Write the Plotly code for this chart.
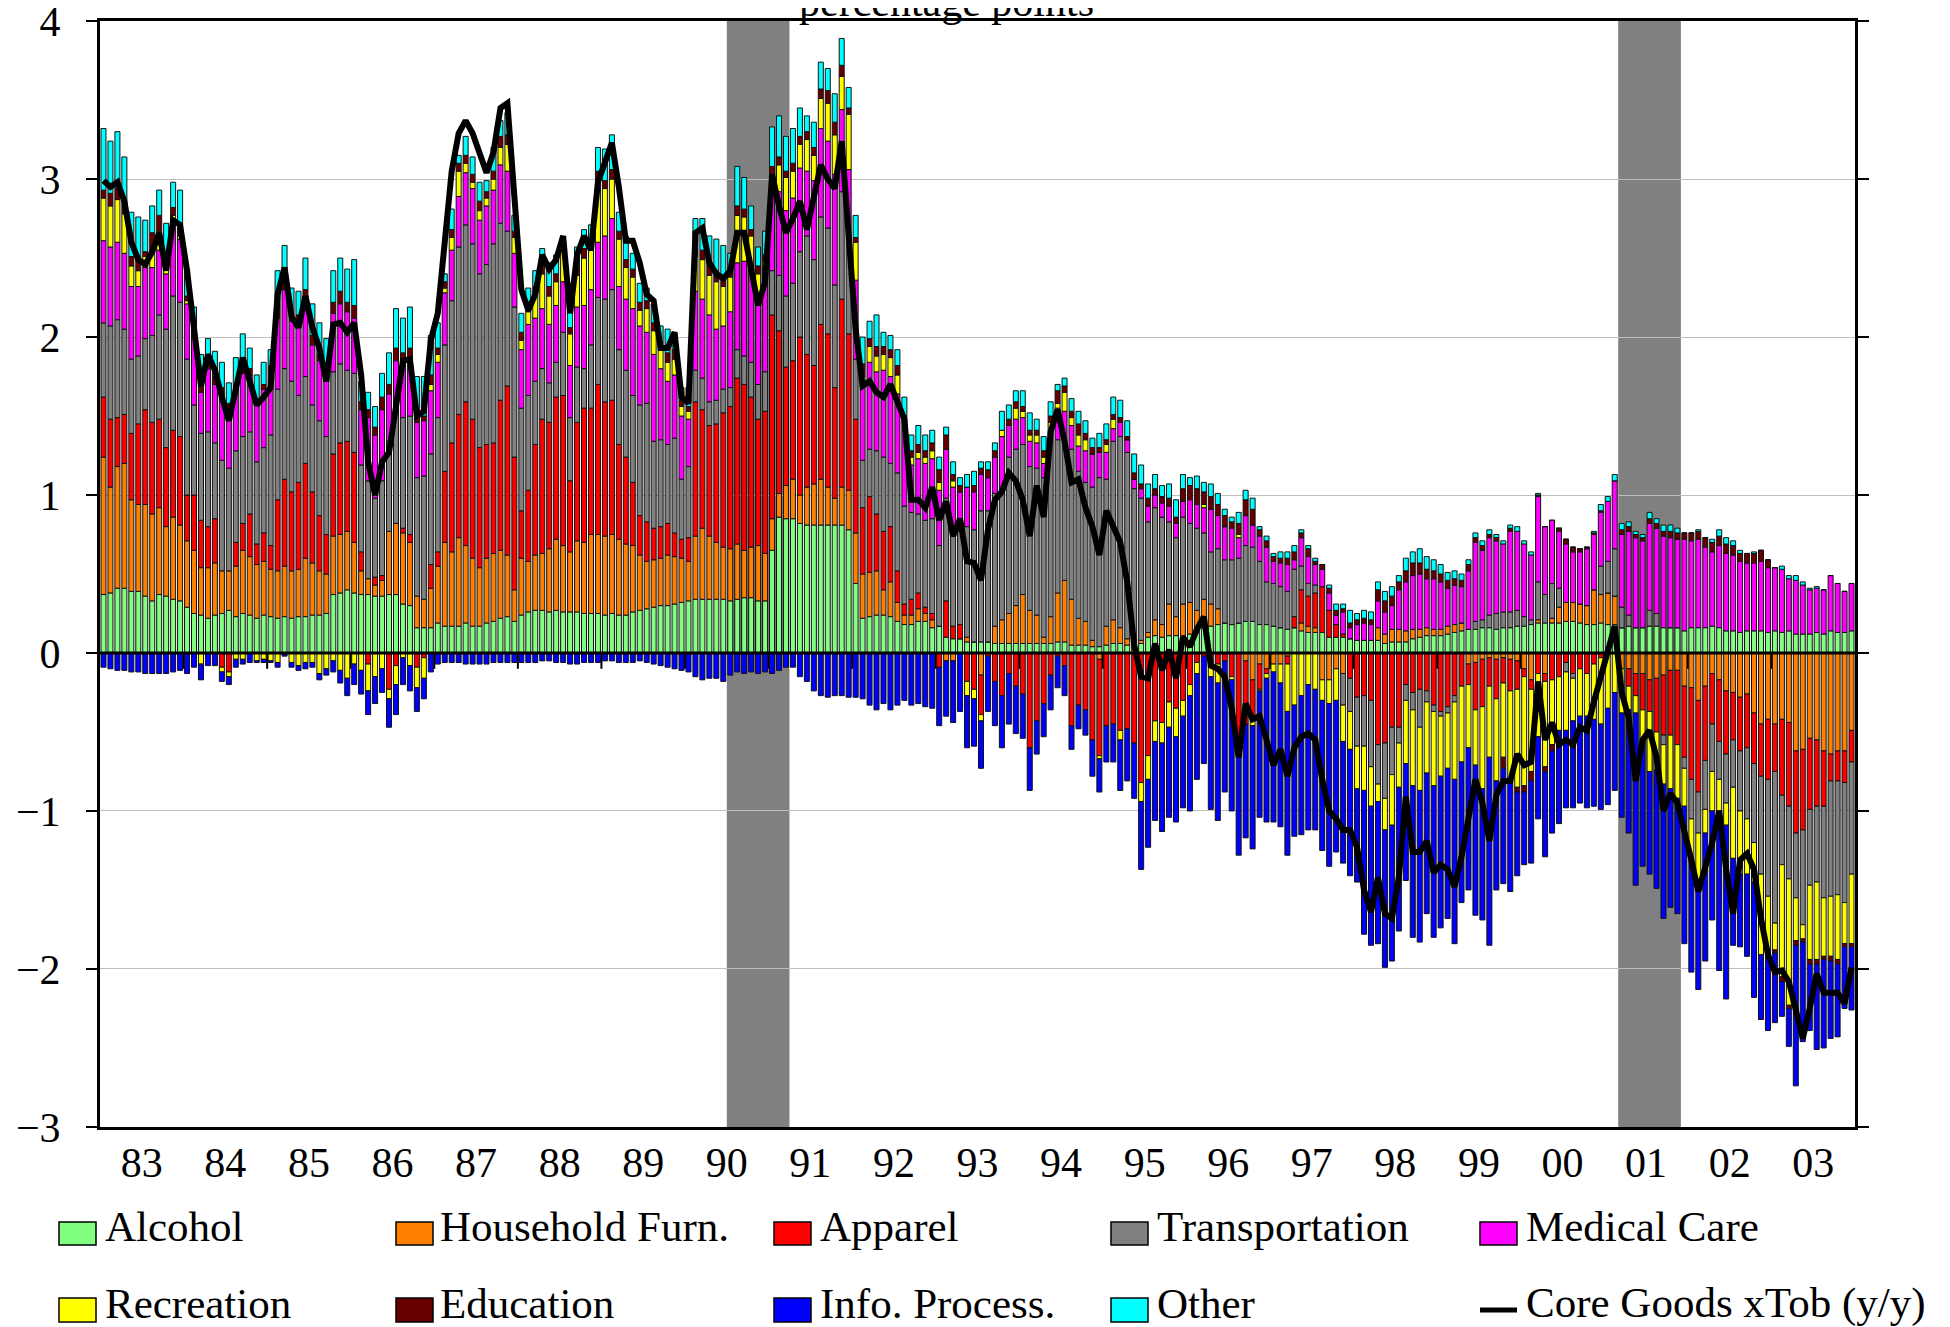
import plotly.graph_objects as go

# ---------------- data (monthly, Jan 1983 - Dec 2003), percentage points ----------------
YEARS = ["83", "84", "85", "86", "87", "88", "89", "90", "91", "92", "93",
         "94", "95", "96", "97", "98", "99", "00", "01", "02", "03"]

ALCOHOL = [
    .37, .38, .41, .41, .39, .39, .36, .33, .37, .36, .34, .33,
    .29, .25, .24, .22, .24, .25, .27, .23, .25, .24, .22, .24,
    .23, .22, .23, .22, .23, .23, .24, .24, .25, .37, .38, .40,
    .38, .37, .37, .36, .36, .37, .37, .31, .30, .16, .16, .16,
    .19, .17, .17, .17, .19, .17, .17, .19, .20, .22, .23, .20,
    .24, .26, .27, .27, .26, .27, .26, .26, .26, .25, .25, .25,
    .24, .25, .24, .24, .26, .27, .28, .29, .30, .30, .31, .32,
    .33, .34, .34, .34, .34, .34, .33, .34, .35, .35, .33, .33,
    .65, .86, .85, .85, .82, .81, .81, .81, .81, .81, .81, .78,
    .44, .22, .23, .24, .24, .23, .20, .18, .18, .20, .20, .16,
    .17, .10, .09, .09, .07, .07, .07, .07, .06, .06, .06, .06,
    .06, .06, .06, .06, .06, .07, .07, .05, .05, .05, .04, .04,
    .05, .06, .06, .05, .06, .06, .10, .11, .10, .11, .11, .11,
    .12, .13, .16, .17, .18, .19, .18, .19, .20, .20, .18, .18,
    .17, .16, .15, .16, .14, .13, .13, .13, .10, .10, .10, .09,
    .08, .08, .08, .08, .06, .07, .07, .07, .09, .10, .11, .11,
    .11, .12, .13, .14, .15, .15, .16, .16, .15, .16, .16, .17,
    .17, .18, .19, .19, .19, .19, .20, .20, .19, .18, .18, .19,
    .18, .18, .16, .17, .16, .16, .17, .17, .16, .16, .16, .14,
    .16, .16, .16, .17, .16, .14, .14, .13, .14, .14, .14, .13,
    .14, .13, .14, .12, .12, .12, .13, .12, .14, .13, .13, .14,
]

HOUSEHOLD_FURN = [
    .87, .67, .77, .79, .58, .55, .58, .55, .55, .44, .52, .48,
    .42, .40, .30, .32, .33, .27, .25, .32, .40, .37, .34, .34,
    .30, .30, .32, .30, .30, .37, .33, .28, .25, .37, .37, .37,
    .32, .15, .10, .07, .10, .40, .45, .45, .40, .20, .18, .25,
    .36, .53, .47, .56, .49, .43, .37, .41, .43, .43, .39, .20,
    .36, .32, .35, .36, .40, .45, .42, .38, .45, .45, .50, .50,
    .50, .50, .48, .45, .42, .35, .30, .30, .30, .32, .30, .28,
    .25, .40, .45, .40, .36, .33, .33, .35, .30, .32, .35, .30,
    .20, .15, .21, .25, .18, .24, .26, .29, .24, .17, .24, .25,
    .32, .28, .28, .28, .16, .22, .12, .06, .06, .08, .05, .05,
    0, -.05, -.05, 0, .03, 0, -.14, 0, .11, .15, .19, .24,
    .31, .21, .18, .04, .17, .31, .39, .29, .17, .15, .04, -.04,
    .12, .15, .10, .04, .03, .02, .03, .10, .08, .20, .12, .20,
    .20, .14, .18, .14, .10, 0, 0, 0, -.05, -.17, -.07, -.10,
    -.07, -.07, -.02, 0, .05, .04, .03, -.17, -.17, -.10, -.13, 0,
    0, 0, 0, .08, .06, .08, .08, .07, .06, .05, .05, .04,
    .04, .05, .05, .05, -.07, -.06, -.04, -.03, -.04, -.03, -.04, -.05,
    -.10, -.17, .02, -.13, .03, .10, .12, .12, .12, .12, .22, .18,
    .20, .18, -.10, -.10, -.13, -.13, -.17, -.16, -.14, -.11, -.11, -.21,
    -.22, -.30, -.21, -.13, -.17, -.24, -.25, -.28, -.26, -.38, -.45, -.42,
    -.45, -.42, -.44, -.62, -.61, -.54, -.55, -.62, -.64, -.62, -.62, -.49,
]

APPAREL = [
    .38, .43, .31, .31, .42, .51, .60, .58, .56, .50, .55, .56,
    .29, .35, .30, .26, .28, -.09, -.12, .15, .17, .27, .13, .18,
    .15, .45, .55, .50, .55, .60, .45, .35, .25, .52, .58, .57,
    .57, .12, -.07, .05, .03, -.23, -.08, .03, .05, -.09, -.03, .15,
    .09, .45, .69, .78, .91, .88, .76, .72, .70, .95, 1.07, .84,
    .30, .45, .70, .85, .80, .90, .95, .45, .75, .85, .80, .95,
    .85, .85, .60, .55, .40, .25, .25, .20, .20, .20, .15, .12,
    .15, .85, .75, .70, .75, .85, .90, 1.05, 1.05, .95, .80, .90,
    1.29, 1.03, .75, .75, 1.00, .84, .75, .98, .97, .70, 1.19, .99,
    .72, .42, .48, .36, .37, .35, .20, .07, .10, .10, .04, .04,
    -.09, .23, .08, .09, -.18, -.23, -.25, -.02, -.18, -.27, -.13, -.21,
    -.26, -.60, -.43, -.32, -.14, -.02, -.08, -.46, -.33, -.36, -.55, -.61,
    -.46, -.45, -.49, -.48, -.57, -.82, -.65, -.43, -.44, -.31, -.35, -.30,
    -.20, -.06, -.02, -.06, -.07, -.05, -.15, -.65, -.40, -.26, -.16, -.03,
    0, 0, -.05, .07, .21, .19, .22, .29, .17, .08, .02, -.16,
    -.28, -.27, -.30, -.58, -.57, -.47, -.47, -.20, -.25, -.23, -.24, -.33,
    -.37, -.34, -.27, -.21, -.13, -.30, -.30, -.18, -.25, -.16, -.20, -.18,
    -.05, -.06, -.13, -.05, -.17, -.15, -.06, -.13, -.10, -.13, -.07, -.03,
    0, 0, 0, -.11, -.14, -.23, -.20, -.34, -.38, -.41, -.47, -.45,
    -.58, -.58, -.47, -.32, -.39, -.40, -.30, -.34, -.34, -.32, -.33, -.38,
    -.30, -.48, -.53, -.52, -.51, -.45, -.42, -.35, -.17, -.19, -.20, -.20,
]

TRANSPORTATION = [
    .47, .59, .62, .54, .47, .43, .45, .55, .66, .75, .85, .85,
    .86, .57, .55, .60, .48, .70, .65, .58, .55, .52, .52, .54,
    .70, .70, .70, .70, .55, .55, .55, .60, .62, .52, .50, .45,
    .50, .55, .62, .50, .60, .57, .73, .70, .75, .75, .78, .70,
    .85, .80, .90, 1.06, 1.12, 1.11, 1.10, 1.14, 1.26, 1.12, .98, .95,
    .65, .60, .40, .32, .25, .22, .40, .40, .35, .25, .40, .55,
    .65, .70, .60, .55, .55, .70, .75, .55, .55, .50, .60, .38,
    .45, .20, .20, .15, .15, .15, .12, .18, .18, .22, .22, .25,
    .28, .35, .45, .49, .54, .75, .67, .68, .67, .65, .68, .59,
    .38, .30, .30, .40, .47, .40, .62, .62, .55, .50, .55, .60,
    .51, .65, .63, .59, .70, .71, .83, .83, .84, .84, .99, .99,
    .95, .91, .93, 1.01, 1.11, .97, .88, .95, .93, .88, .97, 1.07,
    .93, 1.13, 1.21, 1.18, .95, .90, .70, .71, .68, .52, .50, .55,
    .50, .52, .42, .33, .38, .40, .41, .41, .48, .47, .40, .27,
    .27, .26, .24, .30, .15, .08, .05, 0, 0, 0, -.20, -.21,
    -.31, -.32, -.42, -.25, -.35, -.30, -.10, -.10, -.11, -.24, -.07, -.04,
    -.03, -.04, -.04, 0, 0, .05, .05, .08, .10, .10, .10, .10,
    .06, .03, .24, .18, .22, .12, -.06, -.03, 0, 0, 0, .18,
    .20, .30, .13, .07, 0, 0, .10, .08, -.06, 0, 0, -.07,
    -.25, -.26, -.31, -.30, -.24, -.31, -.30, -.38, -.45, -.50, -.62, -.74,
    -.96, -.44, -.46, -.41, -.60, -.48, -.48, -.58, -.73, -.72, -.76, -.71,
]

MEDICAL = [
    .52, .50, .49, .48, .46, .44, .45, .43, .41, .35, .49, .40,
    .35, .42, .26, .40, .37, .40, .37, .38, .40, .36, .36, .37,
    .40, .45, .50, .38, .45, .45, .38, .38, .35, .37, .38, .37,
    .35, .35, .40, .40, .45, .30, .30, .35, .35, .35, .35, .40,
    .35, .33, .32, .32, .33, .35, .34, .37, .34, .37, .38, .34,
    .37, .45, .40, .38, .37, .36, .32, .33, .38, .40, .35, .35,
    .40, .45, .40, .45, .55, .50, .45, .55, .45, .40, .40, .40,
    .30, .50, .50, .55, .45, .40, .48, .55, .60, .55, .50, .60,
    .61, .53, .54, .54, .53, .41, .50, .56, .55, .70, .52, .45,
    .50, .50, .55, .50, .55, .55, .50, .48, .30, .35, .36, .38,
    .35, .31, .25, .25, .25, .24, .23, .21, .23, .32, .20, .19,
    .17, .16, .16, .09, .08, .20, .19, .15, .16, .20, .21, .16,
    .17, .08, .09, .08, .06, .06, .10, .08, .09, .10, .09, .10,
    .15, .15, .16, .27, .21, .21, .20, .13, .19, .14, .16, .22,
    .14, .15, .17, .06, .18, .17, .13, .11, .11, .06, .14, .07,
    .10, .11, .10, .17, .14, .15, .25, .31, .34, .35, .31, .32,
    .30, .24, .25, .23, .37, .50, .44, .49, .46, .43, .51, .50,
    .46, .41, .54, .43, .40, .36, .37, .32, .33, .36, .35, .34,
    .38, .43, .46, .53, .57, .55, .55, .54, .58, .57, .56, .58,
    .55, .56, .51, .47, .52, .49, .48, .45, .43, .43, .44, .41,
    .40, .40, .33, .34, .31, .28, .28, .28, .35, .31, .26, .30,
]

RECREATION = [
    .27, .26, .27, .25, .13, .10, .07, .09, .12, .05, .02, .02,
    .02, 0, -.07, 0, 0, -.03, -.03, -.04, -.04, 0, -.05, -.04,
    -.05, -.06, -.01, -.06, -.08, -.06, -.06, -.13, -.10, -.05, -.11, -.16,
    -.07, -.11, -.17, -.15, -.10, -.06, -.12, -.03, -.08, -.13, -.13, .04,
    .05, .03, .08, .16, .06, .04, .06, .05, .07, .11, .17, .10,
    .06, .08, .14, .22, .18, .15, .22, .20, .20, .30, .25, .40,
    .30, .25, .30, .20, .20, .10, .15, .15, .12, .12, .10, .06,
    .05, .22, .25, .25, .30, .25, .22, .30, .28, .25, .20, .10,
    0, .17, .21, .17, .15, .20, .16, .19, .24, .25, .21, .35,
    .24, .03, .10, .10, .10, .12, .12, .05, .05, .04, .04, .05,
    .05, 0, .04, 0, -.09, -.06, -.04, 0, 0, .04, 0, .07,
    .04, .04, .05, .04, .04, .03, .12, .05, .07, .07, 0, -.02,
    .05, .06, -.06, 0, 0, -.12, -.15, -.13, -.13, -.16, -.18, -.10,
    -.07, -.07, .02, -.09, -.12, 0, -.02, .02, 0, -.03, -.01, -.03,
    -.05, -.12, -.30, -.33, -.27, -.20, -.23, -.13, -.15, -.20, -.23, -.24,
    -.27, -.28, -.25, -.11, -.20, -.32, -.28, -.40, -.48, -.40, -.45, -.47,
    -.38, -.35, -.49, -.48, -.40, -.35, -.52, -.45, -.52, -.47, -.55, -.62,
    -.69, -.52, -.40, -.54, -.41, -.34, -.37, -.27, -.30, -.27, -.35, -.42,
    -.35, -.25, -.28, -.15, -.11, -.20, -.38, -.24, -.25, -.34, -.34, -.24,
    -.25, -.37, -.15, -.25, -.20, -.14, -.45, -.40, -.35, -.25, -.51, -.38,
    -.17, -.71, -.80, -.27, -.09, -.47, -.49, -.37, -.38, -.41, -.26, -.44,
]

EDUCATION = [
    .05, .08, .07, .06, .06, .07, .03, .13, .10, .05, .05, .05,
    .03, .04, .04, .03, .05, .06, .04, .04, .04, .04, .03, .03,
    .04, .10, .08, .05, .06, .10, .06, .04, .05, .07, .08, .06,
    .08, .05, .05, .05, .08, .06, .08, .06, .08, .04, .03, .06,
    .04, .04, .05, .05, .05, .05, .06, .04, .05, .07, .06, .04,
    .05, .05, .06, .07, .06, .05, .02, .04, .06, .06, .06, .05,
    .05, .06, .05, .05, .05, .05, .05, .05, .05, .06, .06, .04,
    .03, .04, .06, .07, .07, .06, .05, .06, .05, .04, .05, .04,
    .05, .05, .04, .05, .05, .05, .05, .06, .08, .08, .07, .04,
    .03, .08, .05, .06, .05, .05, .06, .04, .04, .05, .04, .05,
    .08, .09, .04, .04, 0, .04, .04, .05, .04, 0, .04, .04,
    .03, .03, .03, .04, .04, .08, .04, .04, .07, .04, .04, .03,
    .03, .03, .03, .02, .04, .03, .05, .04, .04, .05, .04, .08,
    .09, .10, .08, .08, .07, .07, .04, .07, .10, .10, .04, .04,
    .03, .03, .04, .05, .03, .05, .02, .03, .03, .03, .02, .03,
    .03, .03, .03, .07, .07, .06, .05, .07, .08, .07, .06, .05,
    .05, .05, .04, .04, .04, .03, .03, .02, .02, -.07, .02, -.03,
    -.04, -.06, .01, -.03, -.04, .02, .03, .03, .02, .01, .01, .01,
    0, 0, .03, .03, .02, .02, .03, .03, .03, .04, .04, .04,
    .05, .05, .06, .06, .06, .06, .06, .05, .06, .06, .07, .05,
    -.02, -.03, -.02, -.03, -.02, -.03, -.03, -.02, -.03, -.03, -.02, -.02,
]

INFO_PROCESS = [
    -.09, -.10, -.11, -.11, -.12, -.12, -.13, -.13, -.13, -.13, -.12, -.11,
    -.13, -.09, -.10, -.08, -.08, -.06, -.05, -.05, -.03, -.06, -.01, -.02,
    -.01, -.03, -.01, -.03, -.03, -.04, -.03, -.04, -.04, -.07, -.08, -.11,
    -.13, -.15, -.15, -.17, -.15, -.18, -.19, -.17, -.16, -.15, -.13, -.12,
    -.07, -.06, -.06, -.06, -.07, -.07, -.07, -.07, -.06, -.06, -.06, -.06,
    -.06, -.06, -.06, -.05, -.05, -.06, -.06, -.07, -.07, -.06, -.06, -.06,
    -.05, -.05, -.06, -.06, -.06, -.05, -.06, -.07, -.08, -.09, -.10, -.11,
    -.12, -.15, -.17, -.16, -.16, -.18, -.14, -.12, -.13, -.12, -.13, -.12,
    -.13, -.11, -.09, -.09, -.15, -.18, -.24, -.27, -.28, -.27, -.27, -.28,
    -.28, -.29, -.33, -.36, -.32, -.36, -.33, -.30, -.33, -.32, -.34, -.35,
    -.37, -.35, -.39, -.37, -.33, -.30, -.30, -.35, -.28, -.33, -.32, -.30,
    -.28, -.27, -.21, -.21, -.22, -.20, -.19, -.15, -.15, -.16, -.23, -.21,
    -.23, -.24, -.32, -.33, -.35, -.43, -.43, -.50, -.56, -.57, -.54, -.58,
    -.73, -.67, -.68, -.84, -.87, -.83, -.83, -.63, -.72, -.78, -.80, -.91,
    -.95, -.91, -.91, -.83, -.88, -.92, -.89, -.95, -1.03, -.96, -.77, -.80,
    -.59, -.91, -.88, -.90, -.87, -.86, -.91, -.74, -.96, -.96, -.89, -.96,
    -.96, -.95, -1.04, -.89, -.90, -.95, -.83, -1.19, -.69, -.73, -.72, -.53,
    -.46, -.52, -.52, -.54, -.52, -.59, -.49, -.55, -.55, -.58, -.55, -.54,
    -.61, -.62, -.66, -.78, -1.09, -.79, -.65, -.75, -.85, -.75, -.73, -.87,
    -.72, -.62, -.81, -.69, -1.01, -1.10, -.55, -.46, -.52, -.73, -.41, -.47,
    -.44, -.22, -.24, -.89, -.63, -.42, -.54, -.56, -.49, -.46, -.39, -.40,
]

OTHER = [
    .39, .33, .36, .30, .28, .27, .20, .17, .16, .22, .16, .24,
    .17, .16, .20, .16, .16, .16, .13, .17, .21, .13, .16, .14,
    .10, .20, .20, .16, .15, .20, .20, .20, .22, .20, .21, .21,
    .29, .13, .11, .13, .15, .20, .25, .22, .26, .25, .25, .25,
    .16, .05, .13, .05, .12, .11, .12, .07, .15, .10, .14, .10,
    .12, .10, .10, .09, .15, .12, .02, .20, .12, .12, .10, .15,
    .20, .22, .12, .15, .10, .12, .08, .12, .10, .15, .10, .08,
    .12, .20, .20, .18, .20, .20, .10, .25, .20, .15, .12, .15,
    .25, .26, .22, .22, .18, .10, .16, .17, .14, .18, .17, .13,
    .14, .17, .11, .20, .09, .09, .10, .12, .10, .12, .10, .08,
    .08, .05, .08, .05, .08, .09, .04, .05, .05, .12, .09, .07,
    .10, .11, .07, .09, .09, .04, .05, .08, .08, .08, .06, .09,
    .10, .11, .11, .10, .12, .12, .09, .09, .07, .09, .11, .09,
    .05, .08, .06, .08, .07, .04, .03, .07, .06, .07, .02, .03,
    .02, .04, .04, .04, .02, .02, .02, 0, .02, .04, .03, .08,
    .04, .05, .05, .05, .06, .06, .04, .08, .07, .09, .08, .07,
    .06, .05, .05, .04, .03, .03, .03, .03, .02, .02, .02, .03,
    .02, .02, .01, 0, 0, 0, 0, 0, 0, 0, .01, .04,
    .03, .04, .04, .03, .02, .02, .04, .03, .04, .04, .03, 0,
    0, .01, 0, .02, .04, .04, .03, .02, 0, .01, 0, 0,
    0, .02, .02, .03, .02, .01, .01, 0, 0, 0, 0, 0,
]

CORE_GOODS_XTOB = [
    2.99, 2.95, 2.98, 2.86, 2.60, 2.49, 2.46, 2.54, 2.66, 2.42, 2.74, 2.71,
    2.42, 2.08, 1.69, 1.89, 1.79, 1.62, 1.47, 1.67, 1.87, 1.72, 1.57, 1.62,
    1.68, 2.27, 2.44, 2.13, 2.06, 2.26, 2.06, 1.93, 1.72, 2.08, 2.09, 2.03,
    2.09, 1.76, 1.21, 1.00, 1.21, 1.27, 1.57, 1.85, 1.86, 1.50, 1.53, 1.98,
    2.15, 2.60, 3.05, 3.29, 3.37, 3.29, 3.15, 3.04, 3.17, 3.45, 3.48, 2.88,
    2.30, 2.17, 2.27, 2.52, 2.43, 2.49, 2.64, 2.15, 2.52, 2.64, 2.55, 2.98,
    3.12, 3.23, 2.95, 2.61, 2.61, 2.47, 2.27, 2.23, 1.93, 1.93, 2.03, 1.62,
    1.58, 2.66, 2.69, 2.47, 2.40, 2.37, 2.42, 2.66, 2.66, 2.42, 2.20, 2.35,
    3.03, 2.83, 2.66, 2.75, 2.86, 2.68, 2.90, 3.09, 3.00, 2.94, 3.24, 2.70,
    2.05, 1.69, 1.72, 1.65, 1.62, 1.70, 1.60, 1.48, .97, .97, .92, 1.05,
    .84, .96, .74, .85, .58, .57, .46, .78, .97, 1.02, 1.14, 1.09,
    .97, .74, 1.06, .86, 1.40, 1.54, 1.34, 1.08, 1.10, .92, .80, .62,
    .90, .80, .70, .45, .05, -.15, -.16, .06, -.11, .02, -.16, .10,
    .04, .15, .23, -.08, -.10, -.15, -.35, -.66, -.32, -.42, -.40, -.55,
    -.71, -.61, -.78, -.60, -.53, -.51, -.55, -.80, -1.00, -1.05, -1.12, -1.12,
    -1.23, -1.50, -1.64, -1.42, -1.65, -1.68, -1.42, -.91, -1.26, -1.26, -1.19, -1.39,
    -1.34, -1.37, -1.48, -1.29, -1.06, -.80, -.95, -1.19, -.90, -.81, -.81, -.64,
    -.71, -.69, -.18, -.55, -.44, -.58, -.55, -.58, -.47, -.49, -.31, -.16,
    .00, .17, -.25, -.41, -.81, -.55, -.49, -.66, -1.00, -.89, -.95, -1.12,
    -1.31, -1.51, -1.37, -1.20, -1.00, -1.37, -1.65, -1.31, -1.27, -1.37, -1.68, -1.91,
    -2.02, -2.01, -2.08, -2.27, -2.44, -2.25, -2.03, -2.15, -2.15, -2.15, -2.22, -1.99,
]

# recessions (in month-index units, Jan 1983 = 0)
RECESSIONS = [(89.5, 98.5), (217.5, 226.5)]

SERIES = [
    ("Alcohol", ALCOHOL, "#80FF80"),
    ("Household Furn.", HOUSEHOLD_FURN, "#FF8000"),
    ("Apparel", APPAREL, "#FF0000"),
    ("Transportation", TRANSPORTATION, "#808080"),
    ("Medical Care", MEDICAL, "#FF00FF"),
    ("Recreation", RECREATION, "#FFFF00"),
    ("Education", EDUCATION, "#660000"),
    ("Info. Process.", INFO_PROCESS, "#0000FF"),
    ("Other", OTHER, "#00FFFF"),
]
LINE_NAME = "Core Goods xTob (y/y)"

N = len(CORE_GOODS_XTOB)
months = list(range(N))
FONT = "Liberation Serif, Times New Roman, serif"

# ---------------- figure ----------------
# the page body has an 8px default margin, so the figure is drawn 8px smaller
# and all layout positions below are given in window pixels minus that offset
OFF = 8
W, H = 1950 - OFF, 1327 - OFF
PLOT_L, PLOT_R, PLOT_T, PLOT_B = 100, 1855, 21, 1127   # window pixels
L, T = PLOT_L - OFF, PLOT_T - OFF
R, B = W - (PLOT_R - OFF), H - (PLOT_B - OFF)
PW, PH = PLOT_R - PLOT_L, PLOT_B - PLOT_T


def px(xw):
    return (xw - PLOT_L) / PW


def py(yw):
    return (PLOT_B - yw) / PH


fig = go.Figure()
for name, vals, col in SERIES:
    fig.add_trace(go.Bar(
        x=months, y=vals, name=name, width=0.72,
        marker=dict(color=col, line=dict(color="#111111", width=1)),
        showlegend=False,
    ))
fig.add_trace(go.Scatter(
    x=months, y=CORE_GOODS_XTOB, name=LINE_NAME, mode="lines",
    line=dict(color="black", width=6), showlegend=False,
))

shapes = []
for x0, x1 in RECESSIONS:
    shapes.append(dict(type="rect", xref="x", yref="paper", x0=x0, x1=x1, y0=0, y1=1,
                       fillcolor="#808080", line=dict(width=0), layer="between"))
# year boundary ticks on the zero line
for k in range(1, 21):
    shapes.append(dict(type="line", xref="x", yref="y", x0=12 * k - 0.5, x1=12 * k - 0.5,
                       y0=0, y1=-0.1, line=dict(color="black", width=2), layer="between"))
# zero line above bars
shapes.append(dict(type="line", xref="paper", yref="y", x0=0, x1=1, y0=0, y1=0,
                   line=dict(color="black", width=3), layer="above"))

annotations = [dict(text="percentage points", xref="paper", yref="paper",
                    x=px(946), y=1.0, xanchor="center", yanchor="bottom",
                    showarrow=False, font=dict(family=FONT, size=42, color="black"),
                    yshift=-6)]

# manual legend: two rows of five
col_sw = [59, 396, 774, 1111, 1480]
col_tx = [103, 438, 818, 1155, 1524]
row_sw = [(1222, 1245), (1298, 1322)]
row_tx = [1226, 1303]
legend_items = [(n, c) for n, _, c in SERIES] + [(LINE_NAME, None)]
for i, (name, col) in enumerate(legend_items):
    r, c = divmod(i, 5)
    y0p, y1p = row_sw[r]
    if col is None:
        shapes.append(dict(type="line", xref="paper", yref="paper",
                           x0=px(col_sw[c]), x1=px(col_sw[c] + 37),
                           y0=py(1310), y1=py(1310),
                           line=dict(color="black", width=5)))
    else:
        shapes.append(dict(type="rect", xref="paper", yref="paper",
                           x0=px(col_sw[c]), x1=px(col_sw[c] + 37),
                           y0=py(y1p), y1=py(y0p), fillcolor=col,
                           line=dict(color="black", width=1.5)))
    annotations.append(dict(text=name, xref="paper", yref="paper",
                            x=px(col_tx[c]), y=py(row_tx[r]), xanchor="left",
                            yanchor="middle", showarrow=False,
                            font=dict(family=FONT, size=43, color="black")))

fig.update_layout(
    width=W, height=H, barmode="relative", bargap=0.28,
    paper_bgcolor="white", plot_bgcolor="white",
    margin=dict(l=L, r=R, t=T, b=B, pad=0, autoexpand=False),
    font=dict(family=FONT, size=42, color="black"),
    shapes=shapes, annotations=annotations, showlegend=False,
    xaxis=dict(range=[-0.5, N - 0.5], tickmode="array",
               tickvals=[12 * i + 5.5 for i in range(len(YEARS))], ticktext=YEARS,
               ticks="", showgrid=False, zeroline=False, showline=True,
               linecolor="black", linewidth=3, mirror=True, automargin=False,
               tickfont=dict(family=FONT, size=42, color="black"),
               ticklabelstandoff=-3),
    yaxis=dict(range=[-3.0005, 4.0005], tickmode="array",
               tickvals=[-3, -2, -1, 0, 1, 2, 3, 4],
               ticktext=["\u22123", "\u22122", "\u22121", "0", "1", "2", "3", "4"],
               ticks="outside", ticklen=11, automargin=False,
               ticklabeloverflow="allow",
               tickwidth=2, tickcolor="black", showline=True, linecolor="black",
               linewidth=3, mirror="ticks", showgrid=True, gridcolor="#bfbfbf",
               gridwidth=1, zeroline=False,
               tickfont=dict(family=FONT, size=42, color="black"),
               ticklabelstandoff=17),
)

fig.write_html("out.html")
